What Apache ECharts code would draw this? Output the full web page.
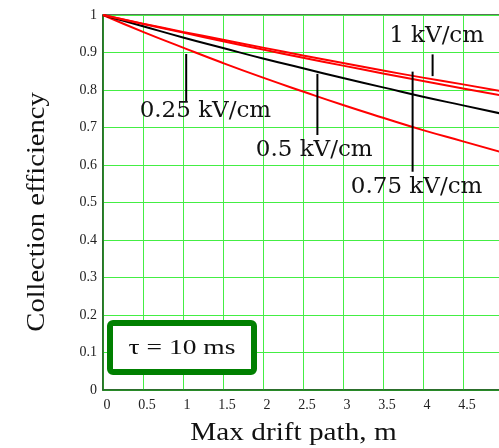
<!DOCTYPE html>
<html>
<head>
<meta charset="utf-8">
<script src="https://cdn.jsdelivr.net/npm/echarts@6/dist/echarts.min.js"></script>
<style>
  html, body { margin: 0; padding: 0; background: #fff; }
  #chart { width: 499px; height: 448px; }
</style>
</head>
<body>
<div id="chart"></div>
<script>
// drift path, m
var driftPath = [0, 0.5, 1, 1.5, 2, 2.5, 3, 3.5, 4, 4.5, 5];
// collection efficiency for each field
var eff025 = [1, 0.955, 0.913, 0.872, 0.833, 0.796, 0.760, 0.726, 0.693, 0.663, 0.633];
var eff05  = [1, 0.970, 0.940, 0.912, 0.884, 0.858, 0.832, 0.807, 0.782, 0.759, 0.736];
var eff075 = [1, 0.976, 0.953, 0.930, 0.908, 0.886, 0.865, 0.844, 0.824, 0.804, 0.785];
var eff1   = [1, 0.977, 0.955, 0.934, 0.913, 0.892, 0.872, 0.852, 0.833, 0.815, 0.796];
var fieldNames = ["0.25 kV/cm", "0.5 kV/cm", "0.75 kV/cm", "1 kV/cm"];

var serif = "'Liberation Serif', 'Times New Roman', serif";
var labelFont = "'DejaVu Serif', serif";

// callouts: label centre + pointer (data coords)
var callouts = [
  { text: fieldNames[0], lx: 1.28, ly: 0.745, px: 1.04, py1: 0.896, py2: 0.768 },
  { text: fieldNames[1], lx: 2.64, ly: 0.641, px: 2.68, py1: 0.843, py2: 0.68 },
  { text: fieldNames[2], lx: 3.92, ly: 0.542, px: 3.87, py1: 0.849, py2: 0.582 },
  { text: fieldNames[3], lx: 4.17, ly: 0.943, px: 4.12, py1: 0.895, py2: 0.837 }
];

function pairs(ys) {
  return driftPath.map(function (x, i) { return [x, ys[i]]; });
}

function lineSeries(name, ys, color) {
  return {
    name: name,
    type: "line",
    data: pairs(ys),
    showSymbol: false,
    smooth: true,
    lineStyle: { color: color, width: 2 },
    itemStyle: { color: color },
    animation: false
  };
}

var chart = echarts.init(document.getElementById("chart"));

chart.setOption({
  backgroundColor: "#fff",
  animation: false,
  grid: {
    left: 103, width: 400, top: 15, bottom: 58,
    outerBoundsMode: "none", containLabel: false,
    show: true, borderColor: "#1d4f1d", borderWidth: 1.5
  },
  xAxis: {
    type: "value",
    min: 0, max: 5, interval: 0.5,
    axisLine: { lineStyle: { color: "#1f6a1f", width: 1.5 } },
    axisTick: { show: false },
    splitLine: { lineStyle: { color: "#44ee44", width: 1 } },
    axisLabel: {
      color: "#222", fontFamily: serif, fontSize: 14, margin: 8,
      padding: [0, 0, 0, 8], showMaxLabel: false
    }
  },
  yAxis: {
    type: "value",
    min: 0, max: 1, interval: 0.1,
    axisLine: { show: true, lineStyle: { color: "#1f6a1f", width: 1.5 } },
    axisTick: { show: false },
    splitLine: { lineStyle: { color: "#44ee44", width: 1 } },
    axisLabel: { color: "#222", fontFamily: serif, fontSize: 14, margin: 6 }
  },
  series: [
    lineSeries(fieldNames[0], eff025, "#ff0000"),
    lineSeries(fieldNames[1], eff05, "#000000"),
    lineSeries(fieldNames[2], eff075, "#ff0000"),
    lineSeries(fieldNames[3], eff1, "#ff0000")
  ]
});

// annotations placed through the chart's own scales
var gfx = [];
callouts.forEach(function (c) {
  var p1 = chart.convertToPixel({ gridIndex: 0 }, [c.px, c.py1]);
  var p2 = chart.convertToPixel({ gridIndex: 0 }, [c.px, c.py2]);
  var lp = chart.convertToPixel({ gridIndex: 0 }, [c.lx, c.ly]);
  gfx.push({
    type: "line", z: 20,
    shape: { x1: p1[0], y1: p1[1], x2: p2[0], y2: p2[1] },
    style: { stroke: "#000", lineWidth: 2 }
  });
  gfx.push({
    type: "text", z: 21, x: lp[0], y: lp[1],
    style: {
      text: c.text, fill: "#111", font: "23px " + labelFont,
      align: "center", verticalAlign: "middle"
    }
  });
});

// tau box
gfx.push({
  type: "rect", z: 22,
  shape: { x: 110, y: 323, width: 144, height: 49, r: 3 },
  style: { fill: "#fff", stroke: "#008000", lineWidth: 6 }
});
gfx.push({
  type: "text", z: 23, x: 182, y: 348, scaleX: 1.25,
  style: {
    text: "τ = 10 ms", fill: "#111", font: "22px " + serif,
    align: "center", verticalAlign: "middle"
  }
});

// axis titles
gfx.push({
  type: "text", z: 23, x: 293.5, y: 433, scaleX: 1.17,
  style: {
    text: "Max drift path, m", fill: "#111", font: "25px " + serif,
    align: "center", verticalAlign: "middle"
  }
});
gfx.push({
  type: "text", z: 23, x: 37, y: 212, rotation: Math.PI / 2, scaleX: 1.14,
  style: {
    text: "Collection efficiency", fill: "#111", font: "25px " + serif,
    align: "center", verticalAlign: "middle"
  }
});

chart.setOption({ graphic: gfx });
</script>
</body>
</html>
